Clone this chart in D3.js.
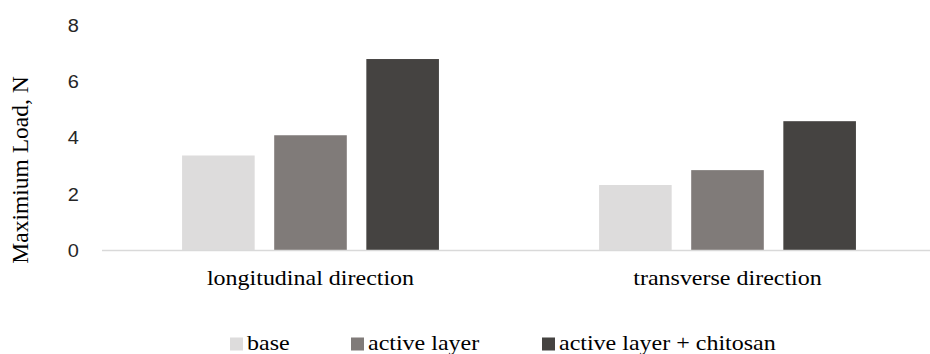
<!DOCTYPE html>
<html>
<head>
<meta charset="utf-8">
<script src="https://cdn.jsdelivr.net/npm/d3@7"></script>
<style>
  html, body { margin: 0; padding: 0; background: #fff; }
  svg { display: block; }
  .serif { font-family: "Liberation Serif", "Times New Roman", serif; }
  .sans { font-family: "Liberation Sans", Arial, sans-serif; }
</style>
</head>
<body>
<svg id="chart" width="930" height="354"></svg>
<script>
// Data
const categories = ["longitudinal direction", "transverse direction"];
const seriesNames = ["base", "active layer", "active layer + chitosan"];
const baseValues = [3.36, 2.31];
const activeLayerValues = [4.08, 2.84];
const chitosanValues = [6.79, 4.58];
const yTicks = [0, 2, 4, 6, 8];

const seriesValues = [baseValues, activeLayerValues, chitosanValues];
const colors = ["#dddcdc", "#807b79", "#454341"];

const svg = d3.select("#chart");
const plot = { left: 102, right: 936, top: 25, bottom: 250 };

const x0 = d3.scaleBand()
  .domain(categories)
  .range([plot.left, plot.right])
  .paddingInner(0.384)
  .paddingOuter(0.192);

const x1 = d3.scaleBand()
  .domain(seriesNames)
  .range([0, x0.bandwidth()])
  .paddingInner(0.212)
  .paddingOuter(0);

const y = d3.scaleLinear().domain([0, 8]).range([plot.bottom, plot.top]);

// Bars
const groups = svg.append("g").selectAll("g")
  .data(categories)
  .join("g")
  .attr("transform", d => `translate(${x0(d)},0)`);

groups.selectAll("rect")
  .data((c, ci) => seriesNames.map((s, si) => ({ s, si, v: seriesValues[si][ci] })))
  .join("rect")
  .attr("x", d => x1(d.s))
  .attr("width", x1.bandwidth())
  .attr("y", d => y(d.v))
  .attr("height", d => y(0) - y(d.v))
  .attr("fill", d => colors[d.si]);

// Baseline
svg.append("line")
  .attr("x1", plot.left).attr("x2", plot.right)
  .attr("y1", y(0) + 0.5).attr("y2", y(0) + 0.5)
  .attr("stroke", "#d9d9d9").attr("stroke-width", 1.3);

// Y tick labels
const yAxis = d3.axisLeft(y).tickValues(yTicks).tickSize(0).tickPadding(0);
const yg = svg.append("g").attr("transform", "translate(79,0)").call(yAxis);
yg.select(".domain").remove();
yg.attr("font-family", null).attr("font-size", null);
yg.selectAll("text")
  .attr("class", "sans")
  .attr("font-size", 20)
  .attr("fill", "#262626")
  .attr("x", 0).attr("y", 0)
  .attr("dy", "0.36em")
  .attr("transform", "scale(1,0.88)");

// Y axis title
svg.append("text")
  .attr("class", "serif")
  .attr("transform", "translate(28,170) rotate(-90)")
  .attr("text-anchor", "middle")
  .attr("font-size", 23.5)
  .attr("fill", "#000")
  .text("Maximium Load, N");

// Category labels
const xAxis = d3.axisBottom(x0).tickSize(0).tickPadding(0);
const xg = svg.append("g").call(xAxis);
xg.select(".domain").remove();
xg.attr("font-family", null).attr("font-size", null);
xg.selectAll(".tick").each(function (d) {
  d3.select(this).attr("transform", `translate(${x0(d) + x0.bandwidth() / 2},285) scale(1,0.86)`);
});
xg.selectAll("text")
  .attr("class", "serif")
  .attr("y", 0).attr("dy", 0)
  .attr("font-size", 24)
  .attr("fill", "#000");

// Legend
const legendX = [230, 351, 542];
const legend = svg.append("g").selectAll("g")
  .data(seriesNames)
  .join("g")
  .attr("transform", (d, i) => `translate(${legendX[i]},350)`);
legend.append("rect")
  .attr("x", 0).attr("y", -12.5)
  .attr("width", 13).attr("height", 13)
  .attr("fill", (d, i) => colors[i]);
legend.append("text")
  .attr("class", "serif")
  .attr("x", 17).attr("y", 0)
  .attr("transform", "scale(1,0.86)")
  .attr("font-size", 24)
  .attr("fill", "#000")
  .text(d => d);
</script>
</body>
</html>
